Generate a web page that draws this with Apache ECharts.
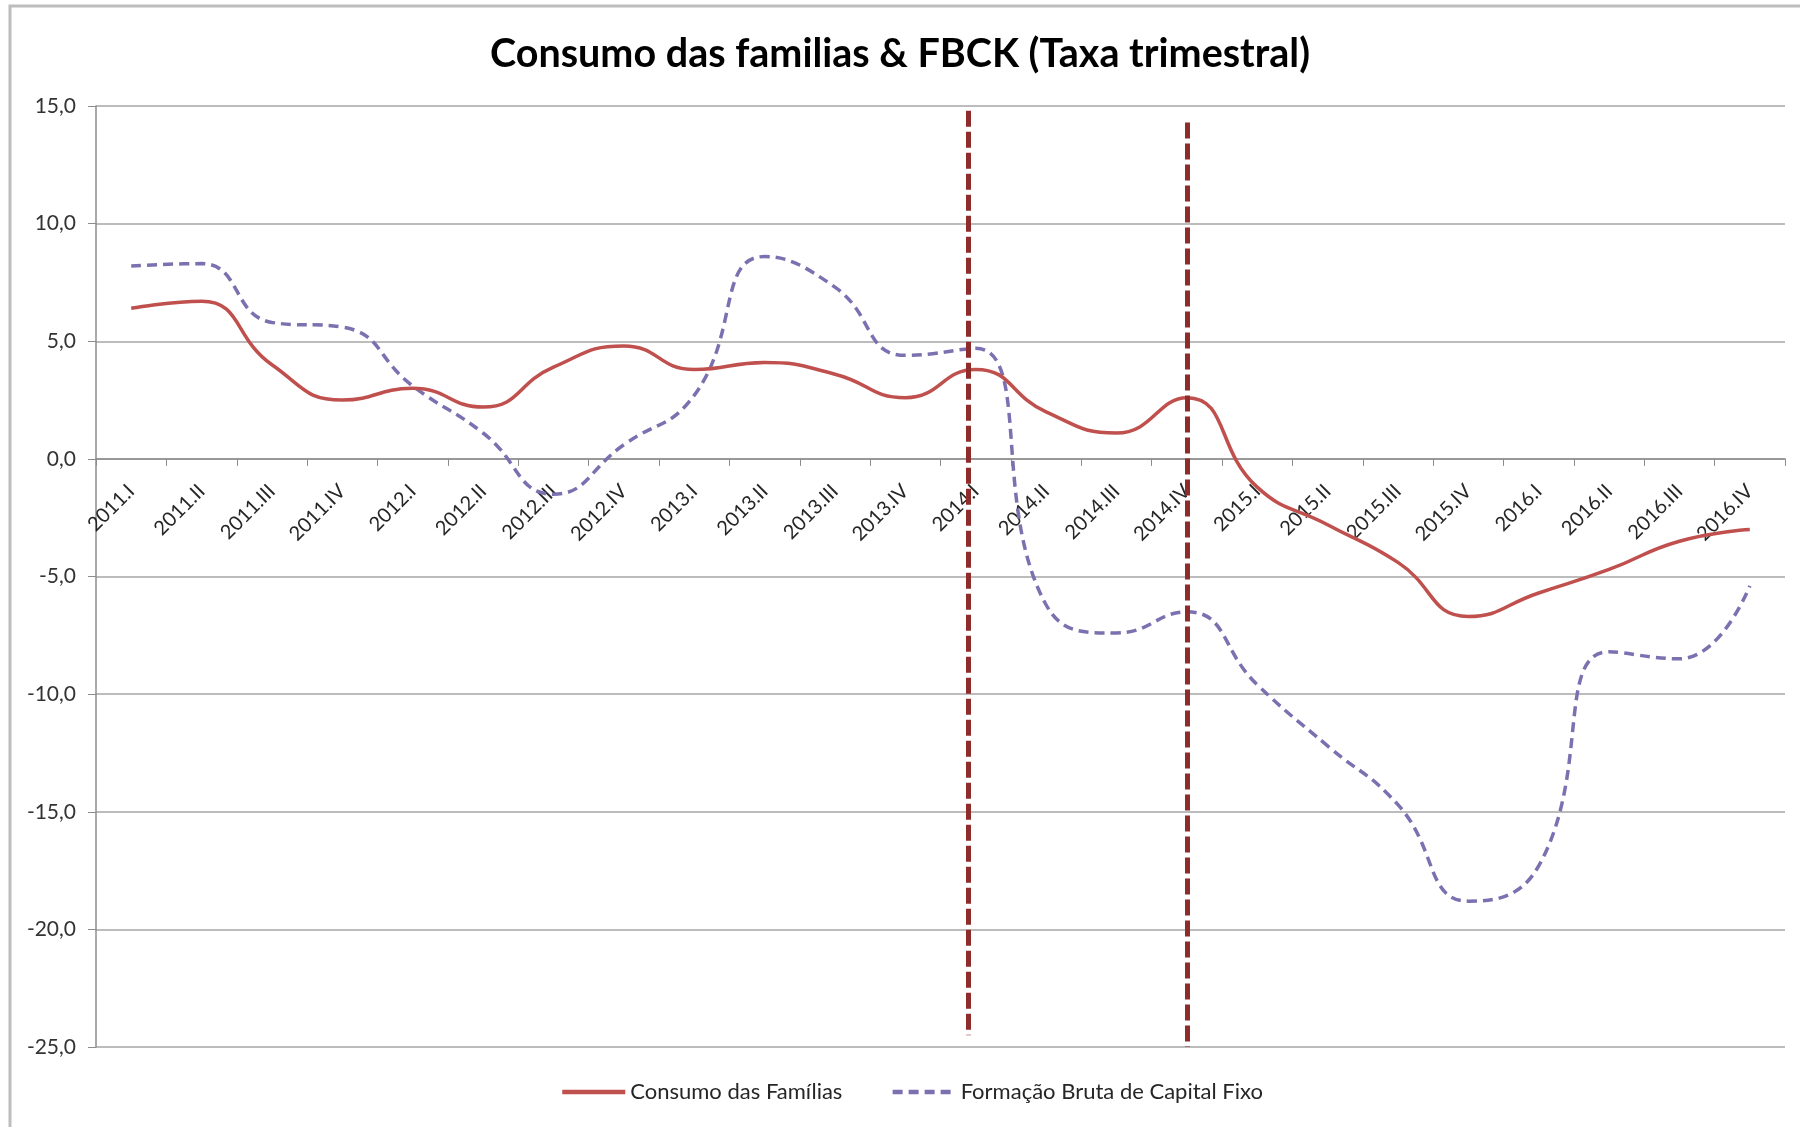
<!DOCTYPE html>
<html>
<head>
<meta charset="utf-8">
<script src="https://cdn.jsdelivr.net/npm/echarts@6/dist/echarts.min.js"></script>
<style>
html,body{margin:0;padding:0;background:#fff;}
#chart{width:1800px;height:1127px;}
</style>
</head>
<body>
<div id="chart"></div>
<script>
const titleText = 'Consumo das familias & FBCK (Taxa trimestral)';
const categories = ['2011.I','2011.II','2011.III','2011.IV','2012.I','2012.II','2012.III','2012.IV',
  '2013.I','2013.II','2013.III','2013.IV','2014.I','2014.II','2014.III','2014.IV',
  '2015.I','2015.II','2015.III','2015.IV','2016.I','2016.II','2016.III','2016.IV'];
const seriesNames = ['Consumo das Famílias', 'Formação Bruta de Capital Fixo'];
const consumo = [6.4, 6.7, 4.0, 2.5, 3.0, 2.2, 3.9, 4.8, 3.8, 4.1, 3.6, 2.6,
  3.8, 2.0, 1.1, 2.6, -1.2, -2.8, -4.4, -6.7, -5.7, -4.7, -3.5, -3.0];
const fbck = [8.2, 8.3, 5.8, 5.6, 3.1, 1.1, -1.5, 0.6, 2.7, 8.6, 7.3, 4.4,
  4.7, -6.2, -7.4, -6.5, -9.6, -12.2, -14.7, -18.8, -17.3, -8.2, -8.5, -5.4];
const yTicks = {min: -25, max: 15, interval: 5};
// vertical marker lines: [position in category units from left edge, top value, bottom value]
const markers = [[12.4, 14.8, -24.5], [15.5, 14.3, -25.0]];

const GRID = {left: 96, right: 15, top: 106, bottom: 80};
const FONT = 'Lato';
const chart = echarts.init(document.getElementById('chart'), null, {renderer: 'canvas'});
// distance from the bottom of the plot to the zero line, in pixels
const plotH = 1127 - GRID.top - GRID.bottom;
const zeroOffset = plotH * (0 - yTicks.min) / (yTicks.max - yTicks.min);

const option = {
  backgroundColor: '#ffffff',
  animation: false,
  title: {
    text: titleText,
    left: 'center',
    top: 29,
    textStyle: {fontFamily: FONT, fontSize: 39.5, fontWeight: 'bold', color: '#000'}
  },
  legend: {
    bottom: 19,
    left: 555,
    itemWidth: 63,
    itemHeight: 14,
    itemGap: 48,
    itemStyle: {opacity: 0},
    lineStyle: {width: 4.5},
    textStyle: {fontFamily: FONT, fontSize: 22, color: '#262626'},
    data: seriesNames
  },
  grid: Object.assign({containLabel: false}, GRID),
  graphic: [{
    type: 'rect', z: -10,
    shape: {x: 10, y: 6, width: 1850, height: 1200},
    style: {fill: 'none', stroke: '#BDBDBD', lineWidth: 3}
  }],
  xAxis: [{
    type: 'category',
    data: categories,
    boundaryGap: true,
    position: 'bottom',
    offset: -zeroOffset,
    axisLine: {onZero: false, lineStyle: {color: '#8C8C8C', width: 1.5}},
    axisTick: {show: true, alignWithLabel: false, length: 7, lineStyle: {color: '#8C8C8C'}},
    axisLabel: {interval: 0, rotate: 45, margin: 29, fontFamily: FONT, fontSize: 20, color: '#262626'},
    splitLine: {show: false}
  }, {
    type: 'value', min: 0, max: categories.length, show: false,
    position: 'top'
  }],
  yAxis: {
    type: 'value',
    min: yTicks.min, max: yTicks.max, interval: yTicks.interval,
    axisLine: {show: true, lineStyle: {color: '#8C8C8C', width: 1.5}},
    axisTick: {show: true, length: 8, lineStyle: {color: '#8C8C8C'}},
    axisLabel: {margin: 20, fontFamily: FONT, fontSize: 21, color: '#333',
      formatter: v => v.toFixed(1).replace('.', ',')},
    splitLine: {show: true, lineStyle: {color: '#A6A6A6', width: 1.5}}
  },
  series: [
    {
      name: seriesNames[0],
      type: 'line',
      data: consumo,
      smooth: 0.5,
      symbol: 'none',
      lineStyle: {color: '#C0504D', width: 3.5},
      itemStyle: {color: '#C0504D'},
      z: 3
    },
    {
      name: seriesNames[1],
      type: 'line',
      data: fbck,
      smooth: 0.5,
      symbol: 'none',
      lineStyle: {color: '#7D70B0', width: 3.5, type: [10, 6]},
      itemStyle: {color: '#7D70B0'},
      z: 2
    },
    {
      name: 'marcos',
      type: 'line',
      xAxisIndex: 1,
      data: [],
      z: 4,
      markLine: {
        silent: true,
        symbol: ['none', 'none'],
        label: {show: false},
        lineStyle: {color: '#8E2B2B', width: 5, type: [16, 5]},
        data: markers.map(m => [{coord: [m[0], m[1]]}, {coord: [m[0], m[2]]}])
      }
    }
  ]
};
chart.setOption(option);
</script>
</body>
</html>
